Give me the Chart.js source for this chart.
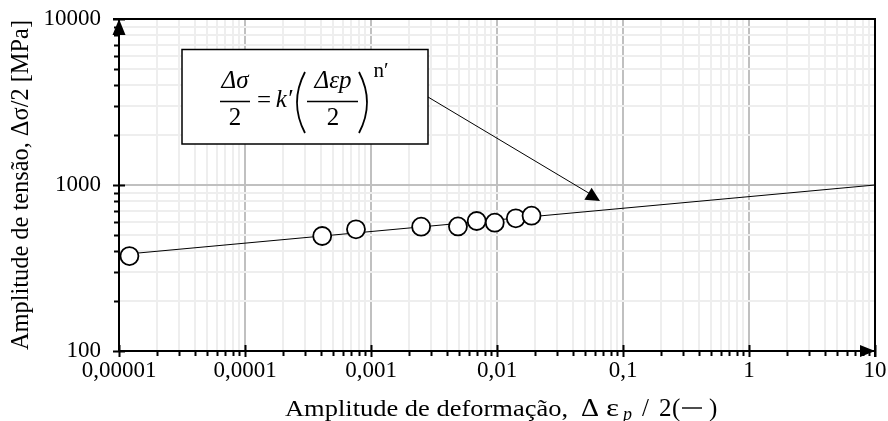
<!DOCTYPE html>
<html>
<head>
<meta charset="utf-8">
<script src="https://cdn.jsdelivr.net/npm/chart.js@4.4.1/dist/chart.umd.min.js"></script>
<style>
    body { margin: 0; background: #fff; }
    #wrap { width: 888px; height: 421px; position: relative; }
</style>
</head>
<body>
<div id="wrap"><canvas id="myLogChart"></canvas></div>
<script>
// Data dari grafik (amplitude de deformação vs amplitude de tensão)
const strainAmp = [0.0000121, 0.00041, 0.00076, 0.0025, 0.0049, 0.0069, 0.0096, 0.0141, 0.0188];
const stressAmp = [373, 493, 541, 561, 563, 607, 593, 630, 653];

// Garis fit (k' = 851, n' = 0.07) - hanya titik ujung
const fitStrain = [0.0000121, 10];
const fitStress = [385, 1000];

// Label sumbu
const xTickValues = [0.00001, 0.0001, 0.001, 0.01, 0.1, 1, 10];
const xTickLabels = ['0,00001', '0,0001', '0,001', '0,01', '0,1', '1', '10'];
const yTickValues = [100, 1000, 10000];
const yTickLabels = ['100', '1000', '10000'];

const serif = '"Liberation Serif", "Times New Roman", serif';

// Buat tick 1..9 per dekade
function decadeTicks(min, max) {
    const ticks = [];
    for (let e = Math.round(Math.log10(min)); e <= Math.round(Math.log10(max)); e++) {
        for (let m = 1; m <= 9; m++) {
            const v = parseFloat((m * Math.pow(10, e)).toPrecision(6));
            if (v > max * 1.0001) break;
            ticks.push({ value: v, major: m === 1 });
        }
    }
    return ticks;
}

function isDecade(v) {
    const l = Math.log10(v);
    return Math.abs(l - Math.round(l)) < 1e-6;
}

function labelFor(values, labels, v) {
    for (let i = 0; i < values.length; i++) {
        if (Math.abs(values[i] - v) / values[i] < 1e-6) return labels[i];
    }
    return '';
}

function tri(ctx, a, b, c) {
    ctx.beginPath();
    ctx.moveTo(a[0], a[1]);
    ctx.lineTo(b[0], b[1]);
    ctx.lineTo(c[0], c[1]);
    ctx.closePath();
    ctx.fill();
}

// teks yang direntangkan ke lebar tertentu
function stretchText(ctx, text, x, y, width) {
    const w = ctx.measureText(text).width;
    ctx.save();
    ctx.translate(x, y);
    ctx.scale(width / w, 1);
    ctx.fillText(text, 0, 0);
    ctx.restore();
}

// Plugin untuk sumbu, panah, judul dan kotak rumus
const decorPlugin = {
    id: 'decor',
    afterDraw(chart) {
        const ctx = chart.ctx;
        const xs = chart.scales.x;
        const ys = chart.scales.y;
        const L = chart.chartArea.left, R = chart.chartArea.right;
        const T = chart.chartArea.top, B = chart.chartArea.bottom;

        ctx.save();
        ctx.strokeStyle = '#000';
        ctx.fillStyle = '#000';
        ctx.lineWidth = 2;

        // garis bingkai & sumbu
        ctx.beginPath();
        ctx.moveTo(L - 6, T); ctx.lineTo(R, T); ctx.lineTo(R, B + 6);
        ctx.moveTo(L, T); ctx.lineTo(L, B);
        ctx.moveTo(L, B); ctx.lineTo(R, B);
        ctx.stroke();

        // tick marks
        ctx.beginPath();
        xs.ticks.forEach(t => {
            const px = Math.round(xs.getPixelForValue(t.value)) + 0.5;
            if (isDecade(t.value)) { ctx.moveTo(px, B - 6); ctx.lineTo(px, B + 6); }
            else { ctx.moveTo(px, B); ctx.lineTo(px, B + 5); }
        });
        ys.ticks.forEach(t => {
            const py = Math.round(ys.getPixelForValue(t.value)) + 0.5;
            if (isDecade(t.value)) { ctx.moveTo(L - 6, py); ctx.lineTo(L + 6, py); }
            else { ctx.moveTo(L - 5, py); ctx.lineTo(L, py); }
        });
        ctx.stroke();

        // panah sumbu
        tri(ctx, [L, T], [L - 6.5, T + 16], [L + 6.5, T + 16]);
        tri(ctx, [R, B], [R - 15, B - 6], [R - 15, B + 6]);

        // judul sumbu Y
        ctx.font = '24.5px ' + serif;
        ctx.textAlign = 'left';
        ctx.textBaseline = 'middle';
        ctx.save();
        ctx.translate(22, (T + B) / 2);
        ctx.rotate(-Math.PI / 2);
        stretchText(ctx, 'Amplitude de tensão, Δσ/2 [MPa]', -165, 0, 330);
        ctx.restore();

        // judul sumbu X (dengan subscript p)
        ctx.textAlign = 'left';
        ctx.textBaseline = 'alphabetic';
        const tx = (L + R) / 2 + 4 - 216;
        const base = 415.5;
        ctx.font = '24px ' + serif;
        stretchText(ctx, 'Amplitude de deformação,', tx, base, 283);
        ctx.font = '26px ' + serif;
        stretchText(ctx, 'Δ', tx + 296, base, 18);
        stretchText(ctx, 'ε', tx + 321, base, 13);
        ctx.font = '25px ' + serif;
        ctx.fillText('/', tx + 357, base);
        ctx.fillText('2', tx + 374, base);
        ctx.fillText('(', tx + 387, base);
        ctx.fillText(')', tx + 424, base);
        ctx.lineWidth = 1.4;
        ctx.beginPath();
        ctx.moveTo(tx + 397, base - 7.5);
        ctx.lineTo(tx + 417, base - 7.5);
        ctx.stroke();
        ctx.font = 'italic 18px ' + serif;
        ctx.fillText('p', tx + 338, base + 4);

        // garis penunjuk & kepala panah
        ctx.lineWidth = 1;
        ctx.beginPath();
        ctx.moveTo(428, 97);
        ctx.lineTo(592, 195);
        ctx.stroke();
        tri(ctx, [600, 201], [584.4, 199.8], [591.6, 187.8]);

        // kotak rumus
        ctx.fillStyle = '#fff';
        ctx.fillRect(182, 49, 246, 95);
        ctx.lineWidth = 1.5;
        ctx.strokeRect(182, 49.5, 246, 94.5);
        ctx.fillStyle = '#000';

        ctx.textAlign = 'center';
        ctx.font = 'italic 25px ' + serif;
        ctx.fillText('Δσ', 235, 88);
        ctx.fillText('Δεp', 333, 88);
        ctx.font = '25px ' + serif;
        ctx.fillText('2', 235, 125);
        ctx.fillText('2', 333, 125);
        ctx.fillText('=', 264, 108);
        ctx.font = 'italic 25px ' + serif;
        ctx.fillText('k′', 284, 107);
        ctx.font = '21px ' + serif;
        ctx.fillText('n′', 381, 77);

        ctx.lineWidth = 1.5;
        ctx.beginPath();
        ctx.moveTo(220, 101.5); ctx.lineTo(250, 101.5);
        ctx.moveTo(307, 101.5); ctx.lineTo(358, 101.5);
        ctx.stroke();

        // kurung besar
        ctx.lineWidth = 1.8;
        ctx.beginPath();
        ctx.moveTo(305, 72); ctx.quadraticCurveTo(289, 102.5, 305, 133);
        ctx.moveTo(359, 72); ctx.quadraticCurveTo(375, 102.5, 359, 133);
        ctx.stroke();

        ctx.restore();
    }
};

const ctxLog = document.getElementById('myLogChart').getContext('2d');
const myLogChart = new Chart(ctxLog, {
    type: 'scatter',
    data: {
        datasets: [{
            label: 'Ensaios',
            data: strainAmp.map((x, i) => ({ x: x, y: stressAmp[i] })),
            pointRadius: 9,
            pointBackgroundColor: '#fff',
            pointBorderColor: '#000',
            pointBorderWidth: 1.8,
            showLine: false,
            order: 0
        }, {
            label: 'Ajuste',
            data: fitStrain.map((x, i) => ({ x: x, y: fitStress[i] })),
            showLine: true,
            pointRadius: 0,
            borderColor: '#000',
            borderWidth: 1,
            order: 1
        }]
    },
    options: {
        responsive: true,
        maintainAspectRatio: false,
        animation: false,
        layout: { padding: { top: 19, right: 13, left: 0, bottom: 0 } },
        plugins: {
            legend: { display: false },
            tooltip: { enabled: false }
        },
        scales: {
            x: {
                type: 'logarithmic',
                min: 0.00001,
                max: 10,
                afterBuildTicks: s => { s.ticks = decadeTicks(0.00001, 10); },
                afterFit: s => { s.height = 70; s.paddingLeft = 0; s.paddingRight = 0; },
                border: { display: false },
                grid: {
                    drawTicks: false,
                    lineWidth: 2,
                    color: c => (c.tick && isDecade(c.tick.value)) ? '#c0c0c0' : '#eeeeee'
                },
                ticks: {
                    autoSkip: false,
                    maxRotation: 0,
                    padding: 6,
                    color: '#000',
                    font: { family: serif, size: 23 },
                    callback: v => labelFor(xTickValues, xTickLabels, v)
                }
            },
            y: {
                type: 'logarithmic',
                min: 100,
                max: 10000,
                afterBuildTicks: s => { s.ticks = decadeTicks(100, 10000); },
                afterFit: s => { s.width = 119; s.paddingTop = 0; s.paddingBottom = 0; },
                border: { display: false },
                grid: {
                    drawTicks: false,
                    lineWidth: 2,
                    color: c => (c.tick && isDecade(c.tick.value)) ? '#c0c0c0' : '#eeeeee'
                },
                ticks: {
                    autoSkip: false,
                    padding: 18,
                    color: '#000',
                    font: { family: serif, size: 23 },
                    callback: v => labelFor(yTickValues, yTickLabels, v)
                }
            }
        }
    },
    plugins: [decorPlugin]
});
</script>
</body>
</html>
